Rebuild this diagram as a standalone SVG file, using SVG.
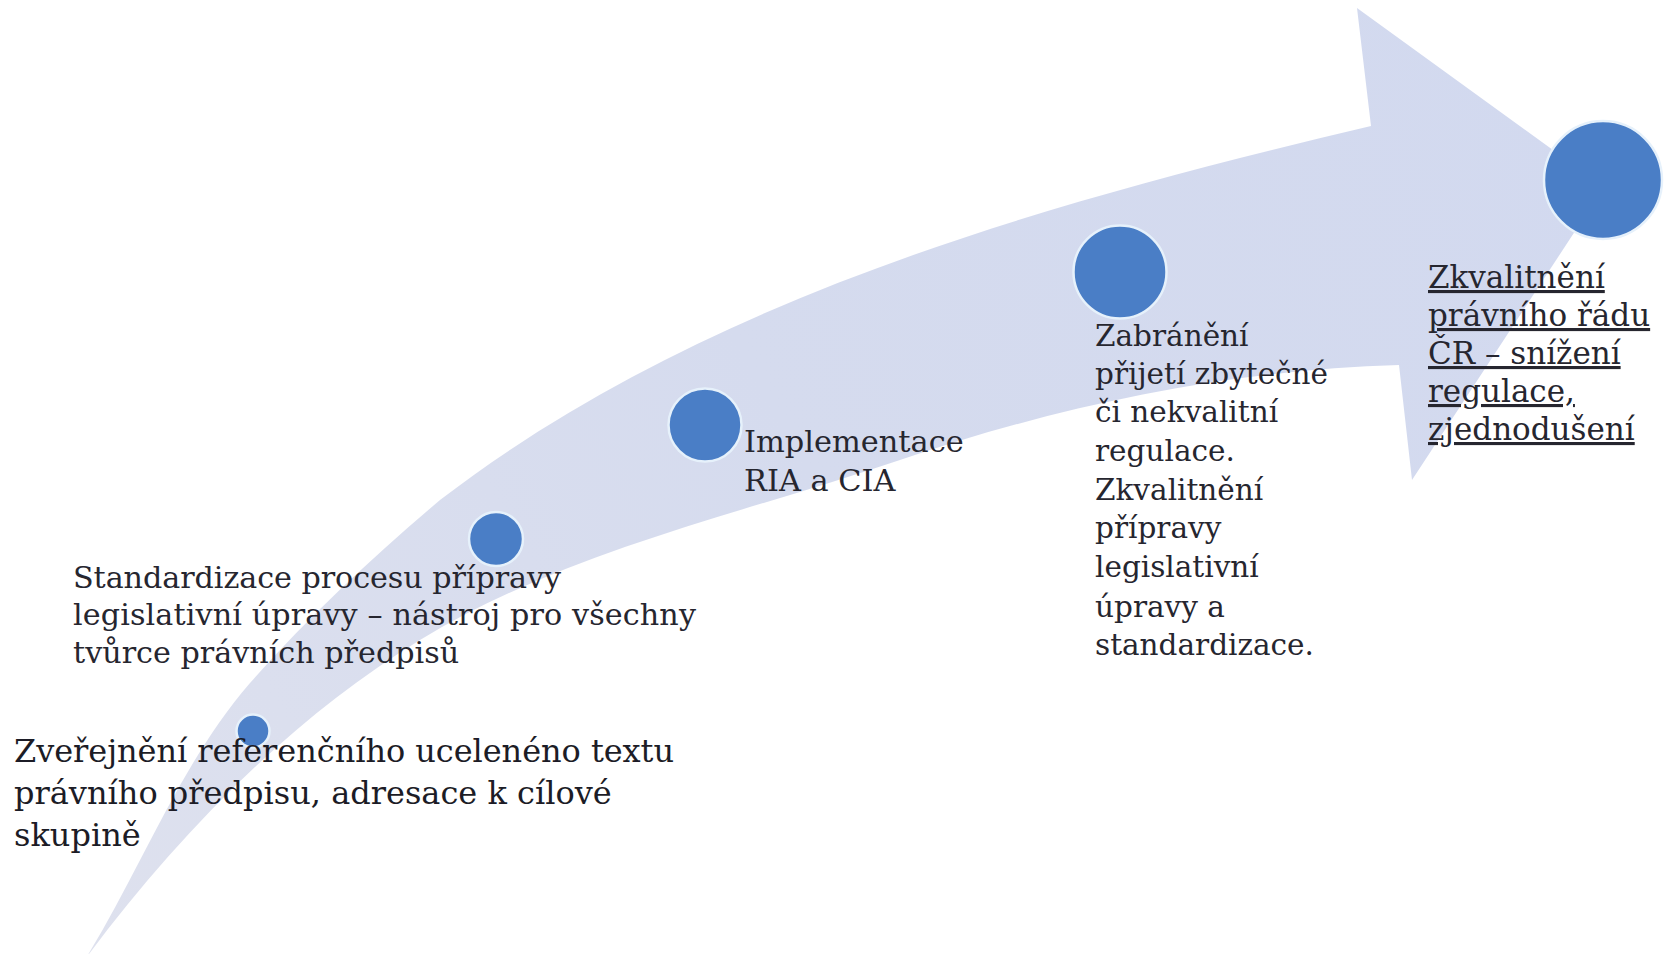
<svg xmlns="http://www.w3.org/2000/svg" width="1670" height="954" viewBox="0 0 1670 954">
<defs>
<linearGradient id="band" x1="80" y1="950" x2="1600" y2="100" gradientUnits="userSpaceOnUse">
<stop offset="0" stop-color="#DEE1EE"/>
<stop offset="0.5" stop-color="#D5DBEE"/>
<stop offset="1" stop-color="#D2D9EF"/>
</linearGradient>
</defs>
<style>
.dot{fill:#4A7EC6;stroke:#E6F1FB;stroke-width:2.5}
.lbl{font-family:"DejaVu Serif","Liberation Serif",serif;fill:#26262F}
.t1{font-size:32px;fill:#1C1C26}
.t2{font-size:30.2px}
.t3{font-size:30.4px}
.t4{font-size:29.5px}
.t5{font-size:31px;text-decoration:underline}
</style>
<rect width="1670" height="954" fill="#FFFFFF"/>
<g id="arrow">
<path fill="url(#band)" d="M 86,958 C 142,867 180,764 250,683 C 308,617 373,557 440,500 C 700,300 1044,203 1371,126 L 1357,8 L 1604,187 L 1412,480 L 1399,365 C 1227,370 1059,406 900,460 C 738,515 566,551 420,640 C 289,720 178,835 86,958 Z"/>
</g>
<g id="connectors"></g>
<g id="node1">
<circle class="dot" cx="253" cy="731" r="16.5"/>
<text class="lbl t1" x="14"><tspan x="14" y="762" textLength="660" lengthAdjust="spacing">Zveřejnění referenčního ucelenéno textu</tspan><tspan x="14" y="804">právního předpisu, adresace k cílové</tspan><tspan x="14" y="846">skupině</tspan></text>
</g>
<g id="node2">
<circle class="dot" cx="496" cy="539" r="27"/>
<text class="lbl t2"><tspan x="73" y="588" textLength="488" lengthAdjust="spacing">Standardizace procesu přípravy</tspan><tspan x="73" y="625" textLength="623" lengthAdjust="spacing">legislativní úpravy – nástroj pro všechny</tspan><tspan x="73" y="663">tvůrce právních předpisů</tspan></text>
</g>
<g id="node3">
<circle class="dot" cx="705" cy="425" r="36.5"/>
<text class="lbl t3"><tspan x="744" y="452">Implementace</tspan><tspan x="744" y="491">RIA a CIA</tspan></text>
</g>
<g id="node4">
<circle class="dot" cx="1120" cy="272" r="46.5"/>
<text class="lbl t4"><tspan x="1095" y="346">Zabránění</tspan><tspan x="1095" y="384">přijetí zbytečné</tspan><tspan x="1095" y="422">či nekvalitní</tspan><tspan x="1095" y="461">regulace.</tspan><tspan x="1095" y="500">Zkvalitnění</tspan><tspan x="1095" y="538">přípravy</tspan><tspan x="1095" y="577">legislativní</tspan><tspan x="1095" y="617">úpravy a</tspan><tspan x="1095" y="655">standardizace.</tspan></text>
</g>
<g id="node5">
<circle class="dot" cx="1603" cy="180" r="59"/>
<text class="lbl t5"><tspan x="1428" y="288">Zkvalitnění</tspan><tspan x="1428" y="326">právního řádu</tspan><tspan x="1428" y="364">ČR – snížení</tspan><tspan x="1428" y="402">regulace,</tspan><tspan x="1428" y="440">zjednodušení</tspan></text>
</g>
</svg>
